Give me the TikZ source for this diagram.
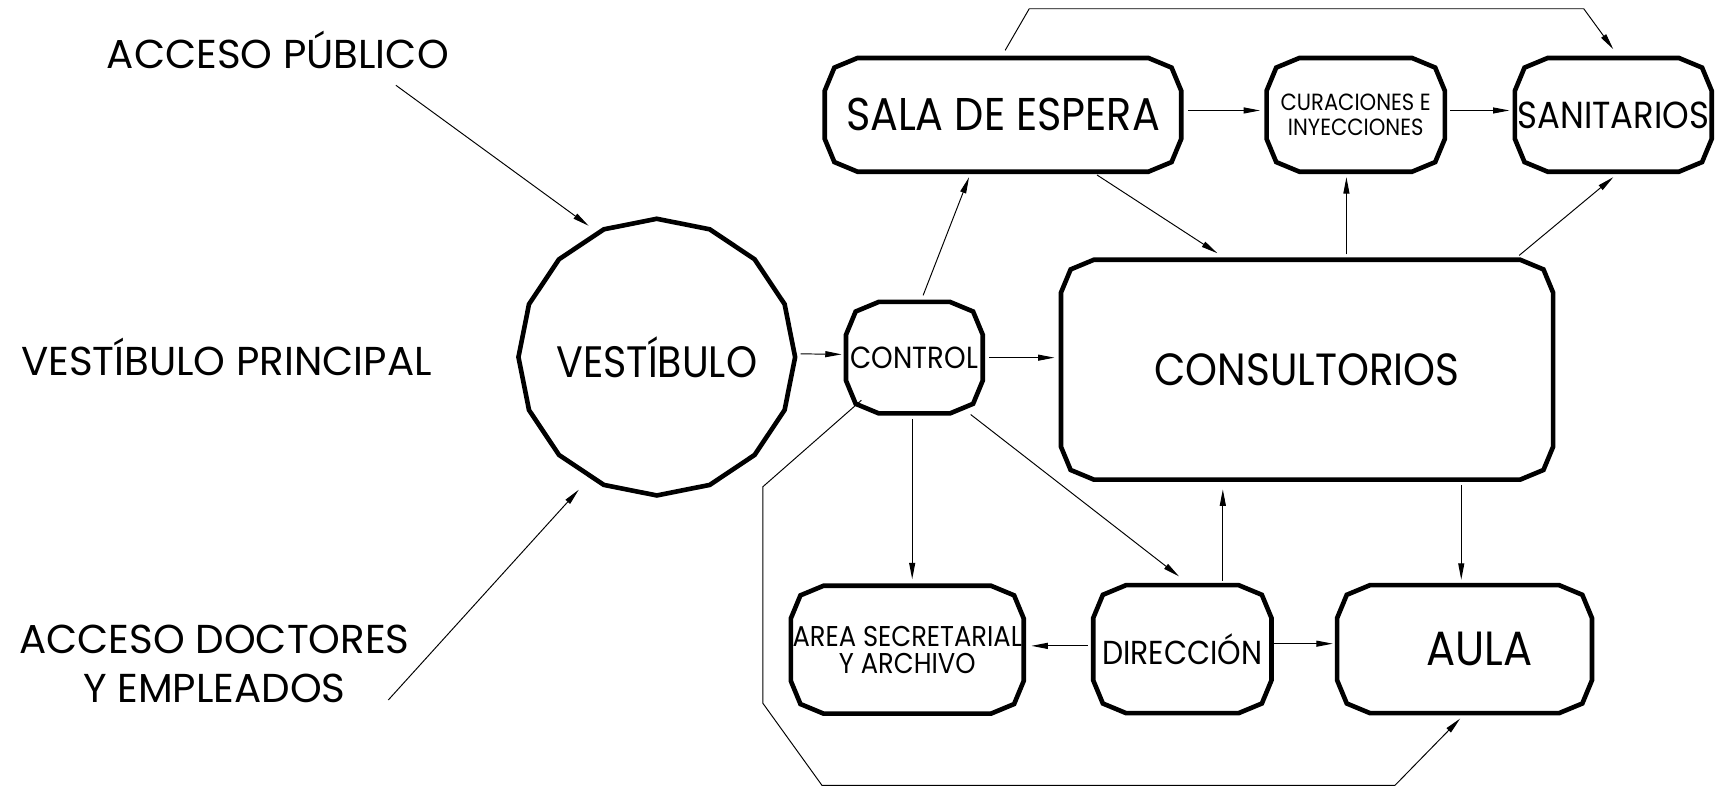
\documentclass[tikz,border=0pt]{standalone}
\usepackage{fontspec}
\setmainfont{Poppins}
\newfontfamily\roomfont[FakeStretch=0.9]{Poppins}
\usetikzlibrary{arrows.meta, calc, shapes.geometric}

\begin{document}
\begin{tikzpicture}[x=0.02cm, y=-0.02cm,
    wall/.style={line width=2.4pt, line join=miter},
    link/.style={line width=0.5pt, -{Triangle[length=0.3cm, width=0.11cm]}},
    room/.style={rectangle, inner sep=0pt, outer sep=0pt, align=center},
    zonelabel/.style={font=\fontsize{21}{25.6}\selectfont, align=center},
  ]
  \useasboundingbox (0,0) rectangle (1568,720);
  % rooms
  \node[room, minimum width=6.52cm, minimum height=2.08cm, font=\roomfont\fontsize{23.9}{26}\selectfont] (sala) at (917,105) {SALA DE ESPERA};
  \node[room, minimum width=3.26cm, minimum height=2.08cm, font=\roomfont\fontsize{12.2}{13}\selectfont] (cura) at (1239.5,105) {CURACIONES E\\INYECCIONES};
  \node[room, minimum width=3.6cm, minimum height=2.08cm, font=\roomfont\fontsize{19.6}{24}\selectfont] (sani) at (1475,105) {SANITARIOS};
  \node[room, minimum width=9cm, minimum height=4.02cm, font=\roomfont\fontsize{23.5}{28}\selectfont] (cons) at (1195,338) {CONSULTORIOS};
  \node[room, minimum width=2.5cm, minimum height=2.04cm, font=\roomfont\fontsize{15.9}{18}\selectfont] (ctrl) at (836,327) {CONTROL};
  \node[room, minimum width=4.26cm, minimum height=2.34cm, font=\roomfont\fontsize{14.9}{14.2}\selectfont] (area) at (829.5,594) {AREA SECRETARIAL\\Y ARCHIVO};
  \node[room, minimum width=3.26cm, minimum height=2.34cm, font=\roomfont\fontsize{17.3}{21}\selectfont] (dire) at (1081,593.5) {DIRECCIÓN};
  \node[room, minimum width=4.66cm, minimum height=2.34cm, font=\roomfont\fontsize{25}{28}\selectfont] (aula) at (1339,593.5) {\hspace*{0.55cm}AULA};
  \foreach \n in {sala,cura,sani,cons,ctrl,area,dire,aula}
    \draw[wall] ($(\n.north west)+(30,0)$) -- ($(\n.north east)+(-30,0)$)
      -- ($(\n.north east)+(-8.8,8.8)$) -- ($(\n.north east)+(0,30)$)
      -- ($(\n.south east)+(0,-30)$) -- ($(\n.south east)+(-8.8,-8.8)$)
      -- ($(\n.south east)+(-30,0)$) -- ($(\n.south west)+(30,0)$)
      -- ($(\n.south west)+(8.8,-8.8)$) -- ($(\n.south west)+(0,-30)$)
      -- ($(\n.north west)+(0,30)$) -- ($(\n.north west)+(8.8,8.8)$) -- cycle;
  \node[regular polygon, regular polygon sides=16, shape border rotate=11.25,
    minimum size=5.06cm, inner sep=0pt, outer sep=0pt, draw, wall,
    font=\roomfont\fontsize{22.9}{26}\selectfont] (vest) at (600.5,326.5) {\makebox[0pt]{VESTÍBULO}};
  % access labels
  \node[zonelabel, anchor=base] (pub) at (254,63) {ACCESO PÚBLICO};
  \node[zonelabel, anchor=base] (prin) at (207,343) {VESTÍBULO PRINCIPAL};
  \node[zonelabel] (doc) at (196,607) {ACCESO DOCTORES\\Y EMPLEADOS};
  % bends
  \coordinate (tl) at (941,8);
  \coordinate (tr) at (1448,8);
  \coordinate (bl1) at (697.5,445);
  \coordinate (bl2) at (697.5,643);
  \coordinate (bl3) at (751.5,718);
  \coordinate (br) at (1275.4,718);
  % circulation
  \draw[link] ($(pub.base)+(108,15)$) -- ($(vest.112.5)+(-15,-3)$);
  \draw[link] ($(doc.center)+(159,33)$) -- ($(vest.247.5)+(-22,5)$);
  \draw[link] ($(vest.east)+(5,-3)$) -- ($(ctrl.west)+(-4,-3)$);
  \draw[link] ($(ctrl.north)+(8,-6)$) -- ($(sala.south)+(-31,5)$);
  \draw[link] ($(ctrl.east)+(6,0)$) -- ($(ctrl.east -| cons.west)+(-6,0)$);
  \draw[link] ($(sala.east)+(6,-4)$) -- ($(cura.west)+(-6,-4)$);
  \draw[link] ($(cura.east)+(5,-4)$) -- ($(sani.west)+(-5,-4)$);
  \draw[link] ($(sala.south)+(86,3)$) -- ($(cons.north)+(-82,-6)$);
  \draw[link] ($(cons.north)+(36,-5)$) -- ($(cura.south)+(-8.5,5)$);
  \draw[link] ($(cons.north east)+(-31,-4)$) -- ($(sani.south)+(0,5)$);
  \draw[link] ($(sala.north)+(2,-7)$) -- (tl) -- (tr) -- ($(sani.north)+(0,-8)$);
  \draw[link] ($(ctrl.south)+(-2,5)$) -- ($(ctrl.south |- area.north)+(-2,-6)$);
  \draw[link] ($(ctrl.south east)+(-11,1)$) -- ($(dire.north)+(-3,-8)$);
  \draw[link] ($(dire.north)+(37,-4)$) -- ($(cons.south)+(-77,9)$);
  \draw[link] ($(cons.south)+(141,5)$) -- ($(aula.north)+(-3,-5)$);
  \draw[link] ($(dire.west)+(-5,-3)$) -- ($(dire.west -| area.east)+(7,-3)$);
  \draw[link] ($(dire.east)+(2,-5)$) -- ($(aula.west)+(-4,-5)$);
  \draw[link] ($(ctrl.south west)+(14,-12)$) -- (bl1) -- (bl2) -- (bl3) -- (br) -- ($(aula.south)+(-4,5)$);
\end{tikzpicture}
\end{document}
